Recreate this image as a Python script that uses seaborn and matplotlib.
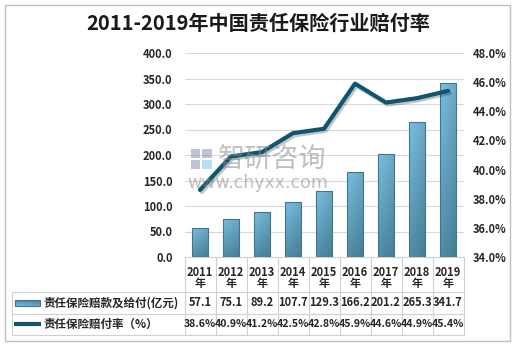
import numpy as np
import pandas as pd
import matplotlib
matplotlib.use("Agg")
import matplotlib.pyplot as plt
import matplotlib.patheffects as pe
from matplotlib.patches import Rectangle
from matplotlib.colors import to_rgb
import seaborn as sns

# ---- data ----
years = ["2011", "2012", "2013", "2014", "2015", "2016", "2017", "2018", "2019"]
payouts = [57.1, 75.1, 89.2, 107.7, 129.3, 166.2, 201.2, 265.3, 341.7]   # 亿元
ratios = [38.6, 40.9, 41.2, 42.5, 42.8, 45.9, 44.6, 44.9, 45.4]          # %
title = "2011-2019年中国责任保险行业赔付率"
bar_label = "责任保险赔款及给付(亿元)"
line_label = "责任保险赔付率（%）"
left_ticks = [0, 50, 100, 150, 200, 250, 300, 350, 400]
right_ticks = [34, 36, 38, 40, 42, 44, 46, 48]

sns.set_theme(style="white")
plt.rcParams["font.family"] = ["Noto Sans CJK SC", "DejaVu Sans"]

W, H = 516, 344
fig = plt.figure(figsize=(W / 100, H / 100), dpi=100)


def fx(px):
    return px / W


def fy(py):
    return 1 - py / H


# plot area in pixel units
PL, PR, PT, PB = 184.5, 463.5, 53, 257
ax = fig.add_axes([fx(PL), fy(PB), (PR - PL) / W, (PB - PT) / H])

LINE_C = "#0e5570"
EDGE_C = "#41758f"
TXT_C = "#262626"
GRID_C = "#d9d9d9"

df = pd.DataFrame({"year": years, "payout": payouts, "ratio": ratios})
sns.barplot(data=df, x="year", y="payout", ax=ax, width=0.52,
            color="#5b9dbd", edgecolor=EDGE_C, linewidth=0.8, zorder=3)


def gradient_rgb(ny=60, nx=12):
    top, bot = np.array(to_rgb("#74b8d6")), np.array(to_rgb("#4c87a1"))
    v = np.linspace(0, 1, ny)[:, None, None]          # 0 bottom -> 1 top
    h = np.linspace(0, 1, nx)[None, :, None]          # 0 left -> 1 right
    img = bot + (top - bot) * v
    img = img * (1.04 - 0.12 * h)
    return np.clip(img, 0, 1)


grad = gradient_rgb()
for patch in list(ax.patches):
    x0, y0 = patch.get_x(), patch.get_y()
    w, h = patch.get_width(), patch.get_height()
    im = ax.imshow(grad, extent=[x0, x0 + w, y0, y0 + h], origin="lower",
                   aspect="auto", zorder=3.1, interpolation="bilinear")
    im.set_clip_path(patch)
    patch.set_facecolor("none")
    patch.set_zorder(3.2)

ax.set_xlim(-0.5, len(years) - 0.5)
ax.set_ylim(0, 400)
ax.set_yticks(left_ticks)
ax.set_yticklabels([f"{t:.1f}" for t in left_ticks], fontsize=8,
                   fontweight="bold", color=TXT_C)
ax.tick_params(axis="y", length=0, pad=8.5)
ax.set_xticks([])
ax.set_xlabel("")
ax.set_ylabel("")
ax.yaxis.grid(True, color=GRID_C, lw=0.8)
ax.set_axisbelow(True)
for s in ax.spines.values():
    s.set_visible(False)

# ---- ratio line on secondary axis ----
ax2 = ax.twinx()
sns.lineplot(x=np.arange(len(years)), y=ratios, ax=ax2, color=LINE_C, lw=3,
             zorder=5,
             path_effects=[pe.SimpleLineShadow(offset=(1.2, -1.5), alpha=0.25),
                           pe.Normal()])
ax2.set_ylim(34, 48)
ax2.set_yticks(right_ticks)
ax2.set_yticklabels([f"{t:.1f}%" for t in right_ticks], fontsize=8,
                    fontweight="bold", color=TXT_C)
ax2.tick_params(axis="y", length=0, pad=7)
ax2.set_ylabel("")
ax2.grid(False)
for s in ax2.spines.values():
    s.set_visible(False)
ax.set_xlim(-0.5, len(years) - 0.5)

# ---- overlay for title, data table and frame (pixel coordinates) ----
ov = fig.add_axes([0, 0, 1, 1], zorder=-1)
ov.set_xlim(0, W)
ov.set_ylim(H, 0)
ov.axis("off")
ov.patch.set_alpha(0)

top = fig.add_axes([0, 0, 1, 1], zorder=10)
top.set_xlim(0, W)
top.set_ylim(H, 0)
top.axis("off")
top.patch.set_alpha(0)

ov.add_patch(Rectangle((4.5, 4.5), 505.5, 336.5, fill=False,
                       edgecolor="#bfbfbf", lw=1))

fig.text(0.5, fy(23), title, ha="center", va="center", fontsize=14.5,
         fontweight="bold", color="#1a1a1a")

# watermark
top.add_patch(Rectangle((191, 149), 9, 9, color="#8a93b8", alpha=0.55, lw=0))
top.add_patch(Rectangle((202, 149), 10, 9, color="#8a93b8", alpha=0.55, lw=0))
top.add_patch(Rectangle((191, 160), 9, 9, color="#8a93b8", alpha=0.55, lw=0))
top.add_patch(Rectangle((202, 160), 10, 9, color="#7fc3ef", alpha=0.55, lw=0))
top.text(272, 159, "智研咨询", ha="center", va="center", fontsize=19.5,
         color="#8a8a8a", alpha=0.55)
top.text(258, 183, "www.chyxx.com", ha="center", va="center",
         fontsize=12.5, color="#8a8a8a", alpha=0.55, family="DejaVu Sans")

LC = "#d0d0d0"
n = len(years)
cw = (PR - PL) / n
cols = [PL + i * cw for i in range(n + 1)]
r0, r1, r2, r3 = PB, 292, 313.5, 335
ov.plot([PL, PR], [r0, r0], color=LC, lw=0.8)
for yy in (r1, r2, r3):
    ov.plot([12, PR], [yy, yy], color=LC, lw=0.8)
ov.plot([12, 12], [r1, r3], color=LC, lw=0.8)
for xx in cols:
    ov.plot([xx, xx], [r0, r3], color=LC, lw=0.8)

for i, yr in enumerate(years):
    cx = PL + (i + 0.5) * cw
    ov.text(cx, 272, yr, ha="center", va="center", fontsize=8,
            fontweight="bold", color=TXT_C)
    ov.text(cx, 284, "年", ha="center", va="center", fontsize=8,
            fontweight="bold", color=TXT_C)
    ov.text(cx, (r1 + r2) / 2, f"{payouts[i]:.1f}", ha="center", va="center",
            fontsize=8, fontweight="bold", color=TXT_C)
    ov.text(cx, (r2 + r3) / 2, f"{ratios[i]:.1f}%", ha="center",
            va="center", fontsize=7.6, fontweight="bold", color=TXT_C)

# legend keys inside the table
ov.imshow(grad, extent=[15, 40, (r1 + r2) / 2 + 3, (r1 + r2) / 2 - 3],
          aspect="auto", zorder=2, interpolation="bilinear")
ov.add_patch(Rectangle((15, (r1 + r2) / 2 - 3), 25, 6, fill=False,
                       edgecolor=EDGE_C, lw=0.8, zorder=3))
ov.plot([14, 41], [(r2 + r3) / 2, (r2 + r3) / 2], color=LINE_C, lw=3,
        solid_capstyle="butt")
ov.text(43, (r1 + r2) / 2, bar_label, ha="left", va="center", fontsize=8.3,
        fontweight="bold", color=TXT_C)
ov.text(43, (r2 + r3) / 2, line_label, ha="left", va="center", fontsize=8.3,
        fontweight="bold", color=TXT_C)
ov.set_xlim(0, W)
ov.set_ylim(H, 0)

fig.savefig("out.png", dpi=100, facecolor="white")
